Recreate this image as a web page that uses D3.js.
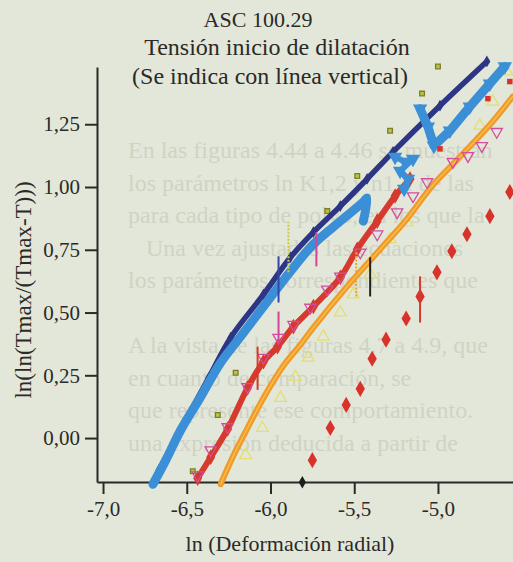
<!DOCTYPE html>
<html>
<head>
<meta charset="utf-8">
<script src="https://cdn.jsdelivr.net/npm/d3@7"></script>
<style>
  body { margin: 0; background: #e3e7d9; }
  svg { display: block; }
</style>
</head>
<body>
<div id="chart"></div>
<script>
// ---- data ----
const titleLines = ["ASC 100.29", "Tensión inicio de dilatación", "(Se indica con línea vertical)"];
const xTicks = [-7.0, -6.5, -6.0, -5.5, -5.0];
const xMinor = [-6.75, -6.25, -5.75, -5.25, -4.75];
const yTicks = [0, 0.25, 0.5, 0.75, 1.0, 1.25];
const yMinor = [-0.125, 0.125, 0.375, 0.625, 0.875, 1.125, 1.375];

// dark blue series
const navyX = [-6.667, -6.506, -6.369, -6.238, -6.042, -5.881, -5.744, -5.583, -5.423, -5.268, -4.988, -4.708];
const navyY = [-0.128, 0.072, 0.24, 0.40, 0.572, 0.72, 0.82, 0.924, 1.032, 1.14, 1.324, 1.50];

// light blue series (three pieces)
const blueLowX = [-6.702, -6.625, -6.536, -6.417, -6.298, -6.179, -6.042, -5.881, -5.744, -5.583, -5.446, -5.423, -5.446];
const blueLowY = [-0.184, -0.088, 0.032, 0.164, 0.30, 0.404, 0.524, 0.664, 0.772, 0.864, 0.94, 0.956, 0.864];
const blueMidX = [-5.256, -5.196, -5.149, -5.226, -5.179, -5.202];
const blueMidY = [1.12, 1.10, 1.112, 1.064, 1.032, 0.992];
const blueTopX = [-5.107, -5.06, -5.024, -4.929, -4.81, -4.69, -4.601];
const blueTopY = [1.312, 1.24, 1.164, 1.224, 1.32, 1.412, 1.48];

// red diamonds series
const redX = [-6.435, -6.357, -6.256, -6.137, -6.042, -5.958, -5.863, -5.744, -5.583, -5.482, -5.363, -5.256, -5.167];
const redY = [-0.16, -0.076, 0.036, 0.20, 0.304, 0.364, 0.444, 0.524, 0.64, 0.752, 0.864, 0.964, 1.032];

// pink open triangles
const pinkX = [-6.435, -6.357, -6.256, -6.137, -6.042, -5.952, -5.863, -5.762, -5.661, -5.583, -5.464, -5.363, -5.244, -5.149, -5.065, -4.911, -4.821, -4.738, -4.649];
const pinkY = [-0.148, -0.048, 0.044, 0.204, 0.32, 0.40, 0.452, 0.52, 0.592, 0.644, 0.74, 0.812, 0.90, 0.964, 1.02, 1.10, 1.124, 1.164, 1.22];

// orange series
const orangeX = [-6.298, -6.220, -6.137, -6.042, -5.923, -5.821, -5.744, -5.542, -5.345, -5.196, -5.030, -4.869, -4.690, -4.554];
const orangeY = [-0.184, -0.068, 0.04, 0.160, 0.288, 0.372, 0.44, 0.604, 0.752, 0.864, 1.008, 1.12, 1.248, 1.36];

// pale yellow open triangles
const yellowX = [-6.149, -6.048, -5.940, -5.851, -5.774, -5.685, -5.583, -5.506, -5.405, -5.286, -5.185, -4.75, -4.673, -4.589];
const yellowY = [-0.068, 0.04, 0.16, 0.244, 0.32, 0.404, 0.50, 0.572, 0.652, 0.792, 0.86, 1.244, 1.34, 1.46];

// small olive squares
const oliveX = [-6.464, -6.315, -6.208, -5.661, -5.482, -5.286, -5.095, -5.0];
const oliveY = [-0.132, 0.092, 0.26, 0.904, 1.044, 1.224, 1.372, 1.48];

// isolated red diamonds
const sparseX = [-5.75, -5.643, -5.548, -5.464, -5.393, -5.310, -5.190, -5.107, -5.006, -4.917, -4.827, -4.690, -4.571];
const sparseY = [-0.088, 0.04, 0.132, 0.196, 0.316, 0.392, 0.476, 0.564, 0.66, 0.744, 0.812, 0.884, 0.98];

// small red squares and the black diamond
const redSqX = [-4.988, -4.702, -4.571];
const redSqY = [1.152, 1.352, 1.42];
const blackX = [-5.81];
const blackY = [-0.176];

// vertical lines: start of dilatation
const vlSeries = ["navy", "yellow", "magenta", "magenta", "red", "black", "orange", "red"];
const vlX  = [-5.952, -5.893, -5.726, -5.952, -6.077, -5.405, -5.488, -5.107];
const vlY0 = [0.54, 0.66, 0.684, 0.38, 0.192, 0.564, 0.564, 0.46];
const vlY1 = [0.724, 0.86, 0.82, 0.504, 0.364, 0.72, 0.74, 0.644];

// text of the page showing through the scan
const bleedLines = [
  "En las figuras 4.44 a 4.46 se muestran",
  "los parámetros ln K1,2 y n1,2 de las",
  "para cada tipo de polvo, en los que la",
  "   Una vez ajustadas las ecuaciones",
  "los parámetros correspondientes que",
  "",
  "A la vista de las figuras 4.7 a 4.9, que",
  "en cuanto de comparación, se",
  "que represente ese comportamiento.",
  "una expresión deducida a partir de"
];

// ---- drawing ----
const W = 513, H = 562;
const ink = "#2a2a28";
const font = "'Liberation Serif', 'Times New Roman', serif";

const svg = d3.select("#chart").append("svg")
  .attr("width", W).attr("height", H);

svg.append("rect").attr("width", W).attr("height", H).attr("fill", "#e3e7d9");

// faint show-through text
svg.append("g")
  .selectAll("text")
  .data(bleedLines)
  .join("text")
    .attr("x", 128)
    .attr("y", (d, i) => 158 + i * 32.5)
    .attr("font-family", font)
    .attr("font-size", 24)
    .attr("fill", "#cfd3c5")
    .attr("xml:space", "preserve")
    .text(d => d);

const x = d3.scaleLinear().domain([-7.036, -4.552]).range([97, 513]);
const y = d3.scaleLinear().domain([-0.175, 1.478]).range([482, 67]);

const comma = f => v => d3.format(f)(v).replace(".", ",").replace("−", "-");

// axes
const gx = svg.append("g").attr("transform", "translate(0,482)");
gx.call(d3.axisBottom(x).tickValues(xMinor).tickSize(7).tickSizeOuter(0).tickFormat(""));
gx.call(d3.axisBottom(x).tickValues(xTicks).tickSize(12).tickSizeOuter(0).tickPadding(7).tickFormat(comma(".1f")));

const gy = svg.append("g").attr("transform", "translate(97,0)");
gy.call(d3.axisLeft(y).tickValues(yMinor).tickSize(7).tickSizeOuter(0).tickFormat(""));
gy.call(d3.axisLeft(y).tickValues(yTicks).tickSize(12).tickSizeOuter(0).tickPadding(5).tickFormat(comma(".2f")));

svg.selectAll(".domain").attr("stroke", ink).attr("stroke-width", 2);
svg.selectAll(".tick line").attr("stroke", ink).attr("stroke-width", 2);
svg.selectAll(".tick text").attr("fill", ink).attr("font-family", font).attr("font-size", 21);

// titles
const titleX = [258, 277, 270], titleY = [27, 55, 84], titleSize = [22, 24, 24];
svg.append("g").selectAll("text")
  .data(titleLines)
  .join("text")
    .attr("x", (d, i) => titleX[i])
    .attr("y", (d, i) => titleY[i])
    .attr("text-anchor", "middle")
    .attr("font-family", font)
    .attr("font-size", (d, i) => titleSize[i])
    .attr("fill", ink)
    .text(d => d);

svg.append("text")
  .attr("x", 290).attr("y", 551)
  .attr("text-anchor", "middle")
  .attr("font-family", font).attr("font-size", 22).attr("fill", ink)
  .text("ln (Deformación radial)");

svg.append("text")
  .attr("transform", "translate(31,290) rotate(-90)")
  .attr("text-anchor", "middle")
  .attr("font-family", font).attr("font-size", 23).attr("fill", ink)
  .text("ln(ln(Tmax/(Tmax-T)))");

// helpers
const pts = (xs, ys) => xs.map((v, i) => [x(v), y(ys[i])]);
const smooth = d3.line().curve(d3.curveCatmullRom.alpha(0.5));
const straight = d3.line();
const plot = svg.append("g");

function path(xs, ys, color, w, gen) {
  plot.append("path")
    .attr("d", (gen || smooth)(pts(xs, ys)))
    .attr("fill", "none")
    .attr("stroke", color)
    .attr("stroke-width", w)
    .attr("stroke-linejoin", "round")
    .attr("stroke-linecap", "round");
}

function marks(xs, ys, type, size, fill, stroke, rot) {
  plot.append("g").selectAll("path")
    .data(pts(xs, ys))
    .join("path")
      .attr("d", d3.symbol().type(type).size(size))
      .attr("transform", d => `translate(${d[0]},${d[1]}) rotate(${rot || 0})`)
      .attr("fill", fill)
      .attr("stroke", stroke || "none")
      .attr("stroke-width", 1.3);
}

// olive squares and pale triangles at the back
marks(oliveX, oliveY, d3.symbolSquare, 22, "#bcc43c", "#7c7f2a");
marks(yellowX, yellowY, d3.symbolTriangle, 60, "none", "#e2de72");

// orange
path(orangeX, orangeY, "#f09a2c", 6);
path(orangeX, orangeY, "#f7bd45", 1.5);

// red diamonds
path(redX, redY, "#d63a2c", 6);
marks(redX, redY, d3.symbolDiamond, 70, "#d63a2c");

// pink open triangles
marks(pinkX, pinkY, d3.symbolTriangle, 55, "none", "#d24d9e", 180);

// dark blue
path(navyX, navyY, "#2d3585", 5.5);
marks(navyX, navyY, d3.symbolDiamond, 40, "#2d3585");

// light blue
path(blueLowX, blueLowY, "#3b8fd6", 9);
path(blueMidX, blueMidY, "#3b8fd6", 6, straight);
marks(blueMidX, blueMidY, d3.symbolTriangle, 90, "#3b8fd6", null, 180);
path(blueTopX, blueTopY, "#3b8fd6", 9, straight);
marks(blueTopX, blueTopY, d3.symbolTriangle, 90, "#3b8fd6", null, 180);

// isolated points
marks(sparseX, sparseY, d3.symbolDiamond, 75, "#d8322a");
marks(redSqX, redSqY, d3.symbolSquare, 30, "#d8322a");
marks(blackX, blackY, d3.symbolDiamond, 45, "#1e1e1e");

// vertical lines
const vlColor = { navy: "#3545a8", yellow: "#c8cc3c", magenta: "#d2459a", red: "#d63a2c", black: "#222222", orange: "#e9a431" };
plot.append("g").selectAll("line")
  .data(vlSeries)
  .join("line")
    .attr("x1", (d, i) => x(vlX[i])).attr("x2", (d, i) => x(vlX[i]))
    .attr("y1", (d, i) => y(vlY0[i])).attr("y2", (d, i) => y(vlY1[i]))
    .attr("stroke", d => vlColor[d])
    .attr("stroke-width", 2)
    .attr("stroke-dasharray", d => (d === "yellow" || d === "orange") ? "2,1.5" : null);
</script>
</body>
</html>
